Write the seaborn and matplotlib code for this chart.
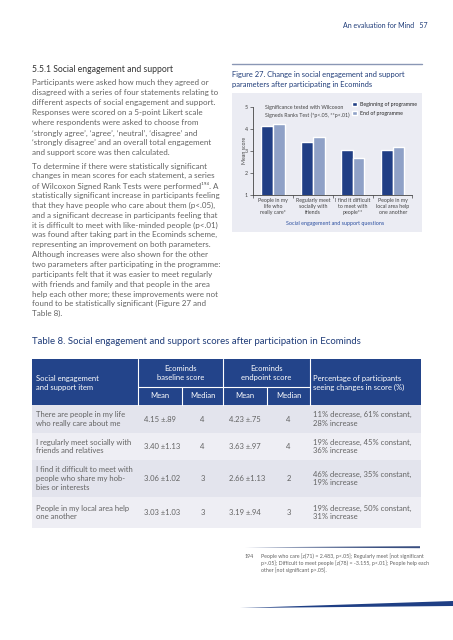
import numpy as np
import pandas as pd
import seaborn as sns
import matplotlib.pyplot as plt
from matplotlib.patches import Rectangle, Polygon
from matplotlib.lines import Line2D

# chart data (Figure 27)
questions = ['People in my\nlife who\nreally care*', 'Regularly meet\nsocially with\nfriends',
             'I find it difficult\nto meet with\npeople**', 'People in my\nlocal area help\none another']
baseline = [4.15, 3.40, 3.06, 3.03]
endpoint = [4.23, 3.63, 2.66, 3.19]
series = ['Beginning of programme', 'End of programme']

# table data (Table 8)
items = ['There are people in my life\nwho really care about me',
         'I regularly meet socially with\nfriends and relatives',
         'I find it difficult to meet with\npeople who share my hob-\nbies or interests',
         'People in my local area help\none another']
base_mean = ['4.15 \u00b1.89', '3.40 \u00b11.13', '3.06 \u00b11.02', '3.03 \u00b11.03']
base_median = ['4', '4', '3', '3']
end_mean = ['4.23 \u00b1.75', '3.63 \u00b1.97', '2.66 \u00b11.13', '3.19 \u00b1.94']
end_median = ['4', '4', '2', '3']
pct = ['11% decrease, 61% constant,\n28% increase', '19% decrease, 45% constant,\n36% increase',
       '46% decrease, 35% constant,\n19% increase', '19% decrease, 50% constant,\n31% increase']

para1 = ["Participants were asked how much they agreed or",
         "disagreed with a series of four statements relating to",
         "different aspects of social engagement and support.",
         "Responses were scored on a 5-point Likert scale",
         "where respondents were asked to choose from",
         "\u2018strongly agree\u2019, \u2018agree\u2019, \u2018neutral\u2019, \u2018disagree\u2019 and",
         "\u2018strongly disagree\u2019 and an overall total engagement",
         "and support score was then calculated."]
para2 = ["To determine if there were statistically significant",
         "changes in mean scores for each statement, a series",
         "of Wilcoxon Signed Rank Tests were performed\u00b9\u2079\u2074. A",
         "statistically significant increase in participants feeling",
         "that they have people who care about them (p<.05),",
         "and a significant decrease in participants feeling that",
         "it is difficult to meet with like-minded people (p<.01)",
         "was found after taking part in the Ecominds scheme,",
         "representing an improvement on both parameters.",
         "Although increases were also shown for the other",
         "two parameters after participating in the programme:",
         "participants felt that it was easier to meet regularly",
         "with friends and family and that people in the area",
         "help each other more; these improvements were not",
         "found to be statistically significant (Figure 27 and",
         "Table 8)."]
footnote = ["People who care [z(71) = 2.483, p<.05]; Regularly meet [not significant",
            "p>.05]; Difficult to meet people [z(78) = -3.155, p<.01]; People help each",
            "other [not significant p>.05]."]

DARK = '#213f85'
LIGHT = '#8fa1c7'
NAVY = '#23448a'
TITLE = '#1e3b78'
GREY = '#636363'

sns.set_style('ticks')
plt.rcParams['font.family'] = ['Lato', 'DejaVu Sans']

W, H = 453, 640
fig = plt.figure(figsize=(W / 100, H / 100), dpi=100)


def fx(x):
    return x / W


def fy(y):
    return 1 - y / H


def txt(x, y, s, **kw):
    kw.setdefault('va', 'center')
    fig.text(fx(x), fy(y), s, **kw)


def rect(x0, y0, x1, y1, color, z=0):
    fig.add_artist(Rectangle((fx(x0), fy(y1)), (x1 - x0) / W, (y1 - y0) / H,
                             transform=fig.transFigure, color=color, zorder=z, lw=0))


def hline(x0, x1, y, color, lw=0.8):
    fig.add_artist(Line2D([fx(x0), fx(x1)], [fy(y), fy(y)], transform=fig.transFigure,
                          color=color, lw=lw))


def vline(x, y0, y1, color, lw=0.8):
    fig.add_artist(Line2D([fx(x), fx(x)], [fy(y0), fy(y1)], transform=fig.transFigure,
                          color=color, lw=lw))


# page header
txt(343, 25, 'An evaluation for Mind   57', fontsize=5.0, color=TITLE)

# left column text
txt(32, 69, '5.5.1 Social engagement and support', fontsize=6.2, color='#333333')
for i, line in enumerate(para1):
    txt(32, 83 + 10 * i, line, fontsize=5.8, color=GREY)
for i, line in enumerate(para2):
    txt(32, 166 + 9.85 * i, line, fontsize=5.8, color=GREY)

# figure caption and panel
hline(232, 422, 64, '#8a97b5', lw=1)
txt(232, 75, 'Figure 27. Change in social engagement and support', fontsize=5.4, color=TITLE)
txt(232, 84, 'parameters after participating in Ecominds', fontsize=5.4, color=TITLE)
rect(232, 93, 422, 232, '#ebecf3')

df = pd.DataFrame({'question': questions * 2,
                   'time': [series[0]] * 4 + [series[1]] * 4,
                   'score': baseline + endpoint})

ax = fig.add_axes([fx(253), fy(195), (412 - 253) / W, (195 - 107) / H])
ax.set_facecolor('none')
sns.barplot(data=df, x='question', y='score', hue='time', palette=[DARK, LIGHT],
            width=0.58, saturation=1, ax=ax)
ax.set_ylim(1, 5)
ax.set_xlim(-0.5, 3.48)
ax.set_yticks([1, 2, 3, 4, 5])
ax.tick_params(axis='y', labelsize=3.8, length=2, width=0.5, pad=1.5, colors='#444444')
ax.tick_params(axis='x', labelsize=3.8, length=0, pad=2.5, colors='#444444')
ax.set_xticks([-0.5, 0.5, 1.5, 2.5, 3.48], minor=True)
ax.tick_params(axis='x', which='minor', length=2, width=0.5, colors='#444444')
for lab in ax.get_xticklabels():
    lab.set_linespacing(1.15)
ax.set_xlabel('')
ax.set_ylabel('')
sns.despine(ax=ax)
for s in ['left', 'bottom']:
    ax.spines[s].set_linewidth(0.6)
    ax.spines[s].set_color('#444444')
ax.legend(loc='upper left', bbox_to_anchor=(fx(352), fy(102)), bbox_transform=fig.transFigure,
          frameon=False, fontsize=3.8, handlelength=0.9, handleheight=0.9,
          handletextpad=0.6, labelspacing=0.7, borderaxespad=0, borderpad=0)
txt(244, 150, 'Mean score', fontsize=3.8, color='#444444', rotation=90, ha='center')
txt(265, 107, 'Significance tested with Wilcoxon', fontsize=3.8, color='#444444')
txt(265, 115, 'Signeds Ranks Test (*p<.05, **p<.01)', fontsize=3.8, color='#444444')
txt(335, 224, 'Social engagement and support questions', fontsize=3.9, color='#2b4fa0', ha='center')

# table
txt(32, 342, 'Table 8. Social engagement and support scores after participation in Ecominds',
    fontsize=6.9, color=TITLE)
rect(32, 359, 421, 405, NAVY)
for x in [138, 223, 310]:
    vline(x, 359, 405, 'white')
for x in [182, 267]:
    vline(x, 387, 405, 'white')
hline(138, 310, 387, 'white')
hs = dict(fontsize=5.5, color='white', linespacing=1.25)
txt(36, 383, 'Social engagement\nand support item', **hs)
txt(180.5, 373, 'Ecominds\nbaseline score', ha='center', **hs)
txt(266.5, 373, 'Ecominds\nendpoint score', ha='center', **hs)
txt(313, 383, 'Percentage of participants\nseeing changes in score (%)', **hs)
for cx in [160, 202.5, 245, 288.5]:
    txt(cx, 396, 'Mean' if cx in (160, 245) else 'Median', ha='center', **hs)

row_edges = [405, 433, 460, 497, 528]
row_bg = ['#e3e4ed', '#eeeef4', '#e3e4ed', '#eeeef4']
bs = dict(fontsize=5.5, color=GREY, linespacing=1.3)
for i in range(4):
    y0, y1 = row_edges[i], row_edges[i + 1]
    rect(32, y0, 421, y1, row_bg[i])
    yc = (y0 + y1) / 2
    txt(36, yc, items[i], **bs)
    txt(144, yc, base_mean[i], **bs)
    txt(202.5, yc, base_median[i], ha='center', **bs)
    txt(229, yc, end_mean[i], **bs)
    txt(288.5, yc, end_median[i], ha='center', **bs)
    txt(313, yc, pct[i], **bs)

# footnote
fig.add_artist(Polygon([[fx(245), fy(547.3)], [fx(420), fy(546.2)], [fx(420), fy(548.2)]],
                       closed=True, transform=fig.transFigure, color='#3a4f80', lw=0))
txt(245, 556, '194', fontsize=3.8, color=GREY)
for i, line in enumerate(footnote):
    txt(261, 556 + 7 * i, line, fontsize=3.8, color=GREY)

# bottom swoosh
fig.add_artist(Polygon([[fx(240), fy(608)], [fx(453), fy(601)], [fx(453), fy(606)]],
                       closed=True, transform=fig.transFigure, color='#1f3f85', lw=0))

fig.savefig('out.png', dpi=100)
